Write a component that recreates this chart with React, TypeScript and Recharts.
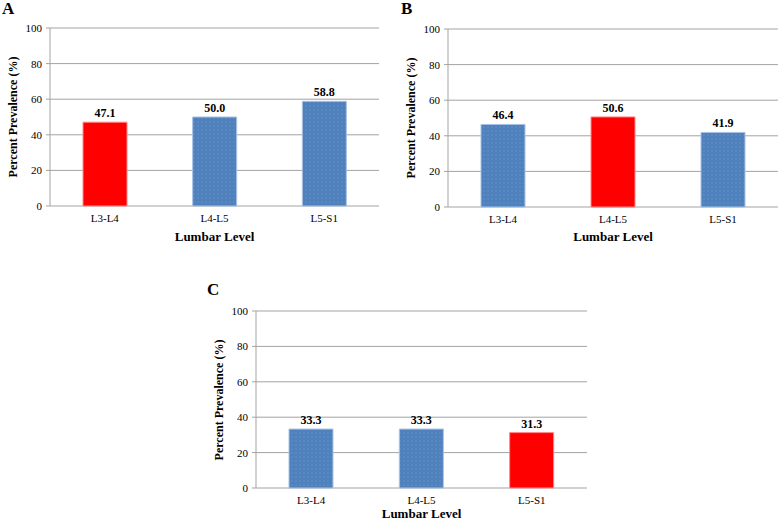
import { BarChart, Bar, XAxis, YAxis, CartesianGrid, Cell, LabelList } from "recharts";

const levels = ["L3-L4", "L4-L5", "L5-S1"];
const prevalenceA = [47.1, 50.0, 58.8];
const prevalenceB = [46.4, 50.6, 41.9];
const prevalenceC = [33.3, 33.3, 31.3];
const highlightA = "L3-L4";
const highlightB = "L4-L5";
const highlightC = "L5-S1";
const yTicks = [0, 20, 40, 60, 80, 100];
const boundaryTicks = [0, 1, 2, 3];

const FONT = "Liberation Serif";
const BLUE = "#4f81bd";
const RED = "#ff0000";
const GRID = "#a3a3a3";

interface PanelProps {
  id: string;
  letter: string;
  values: number[];
  highlight: string;
  plotLeft: number;
  plotRight: number;
  plotTop: number;
  plotBottom: number;
  rightPad: number;
  titleY: number;
  letterPos: [number, number];
}

function Panel({ id, letter, values, highlight, plotLeft, plotRight, plotTop, plotBottom, rightPad, titleY, letterPos }: PanelProps) {
  const data = levels.map((level, i) => ({ level, value: values[i] }));
  const chartLeft = plotLeft - 50;
  const chartTop = plotTop - 28;
  const width = plotRight - plotLeft + 50 + rightPad;
  const height = plotBottom - plotTop + 28 + 44;
  const midX = (plotLeft + plotRight) / 2;
  const midY = (plotTop + plotBottom) / 2;
  const tickStyle = { fontSize: 11, fill: "#000", fontFamily: FONT };

  return (
    <>
      <div style={{ position: "absolute", left: letterPos[0], top: letterPos[1], fontWeight: 700, fontSize: 17, lineHeight: "17px" }}>
        {letter}
      </div>
      <div style={{ position: "absolute", left: chartLeft, top: chartTop }}>
        <BarChart width={width} height={height} data={data} margin={{ top: 28, right: rightPad, bottom: 14, left: 0 }}>
          <defs>
            <pattern id={`dots-${id}`} width="4" height="4" patternUnits="userSpaceOnUse">
              <rect width="4" height="4" fill={BLUE} />
              <circle cx="2" cy="2" r="0.6" fill="#7aa0d2" />
            </pattern>
          </defs>
          <CartesianGrid vertical={false} stroke={GRID} />
          <XAxis
            xAxisId="bounds"
            type="number"
            domain={[0, 3]}
            ticks={boundaryTicks}
            height={0}
            tickFormatter={() => ""}
            tickSize={4}
            stroke={GRID}
          />
          <XAxis
            xAxisId="cat"
            dataKey="level"
            axisLine={false}
            tickLine={false}
            height={30}
            tick={tickStyle}
          />
          <YAxis
            domain={[0, 100]}
            ticks={yTicks}
            width={50}
            tickSize={4}
            tickMargin={4}
            stroke={GRID}
            tick={tickStyle}
          />
          <Bar dataKey="value" xAxisId="cat" barSize={44} isAnimationActive={false}>
            {data.map((d) => (
              <Cell
                key={d.level}
                fill={d.level === highlight ? RED : `url(#dots-${id})`}
                stroke={d.level === highlight ? "#ff8a8a" : "#a8c2e4"}
                strokeWidth={1}
              />
            ))}
            <LabelList
              dataKey="value"
              position="top"
              offset={5}
              formatter={(v: number) => v.toFixed(1)}
              style={{ fontSize: 12, fontWeight: 700, fill: "#000", fontFamily: FONT }}
            />
          </Bar>
        </BarChart>
      </div>
      <div
        style={{
          position: "absolute",
          left: plotLeft - 37,
          top: midY,
          transform: "translate(-50%, -50%) rotate(-90deg)",
          whiteSpace: "nowrap",
          fontWeight: 700,
          fontSize: 12,
        }}
      >
        Percent Prevalence (%)
      </div>
      <div
        style={{
          position: "absolute",
          left: midX,
          top: titleY,
          transform: "translate(-50%, -50%)",
          whiteSpace: "nowrap",
          fontWeight: 700,
          fontSize: 13,
          lineHeight: "14px",
        }}
      >
        Lumbar Level
      </div>
    </>
  );
}

export default function App() {
  return (
    <div
      style={{
        position: "absolute",
        left: 0,
        top: 0,
        width: 778,
        height: 522,
        background: "#fff",
        overflow: "hidden",
        fontFamily: FONT,
        color: "#000",
      }}
    >
      <Panel id="a" letter="A" values={prevalenceA} highlight={highlightA} plotLeft={50} plotRight={379} plotTop={28} plotBottom={206} rightPad={11} titleY={237} letterPos={[2, 0]} />
      <Panel id="b" letter="B" values={prevalenceB} highlight={highlightB} plotLeft={448} plotRight={778} plotTop={29} plotBottom={207} rightPad={0} titleY={237} letterPos={[401, 0]} />
      <Panel id="c" letter="C" values={prevalenceC} highlight={highlightC} plotLeft={256} plotRight={587} plotTop={311} plotBottom={488} rightPad={11} titleY={514} letterPos={[207, 281]} />
    </div>
  );
}
